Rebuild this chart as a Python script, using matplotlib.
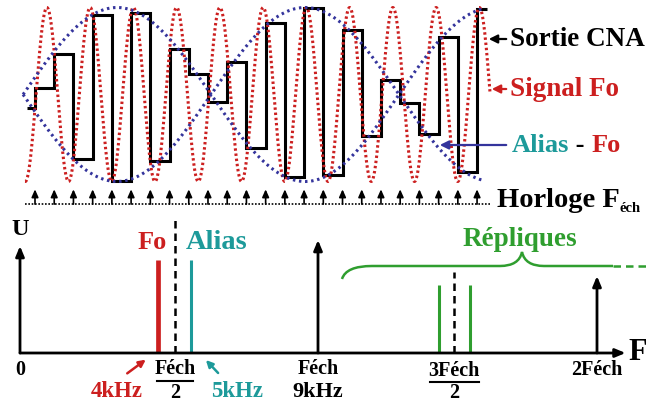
import numpy as np
import matplotlib.pyplot as plt
import matplotlib.transforms as mtransforms
from matplotlib.path import Path
from matplotlib.patches import PathPatch, FancyArrowPatch
from matplotlib.lines import Line2D

plt.rcParams['font.family'] = ['Liberation Serif', 'DejaVu Serif']
plt.rcParams['font.weight'] = 'bold'

W, H = 646, 406

# frequencies (kHz)
fo = 4.0
fech = 9.0
alias = fech - fo
replicas = [fech + fo, 2 * fech - fo]
diracs = [fech, 2 * fech]

# DAC output, one level per clock period (first/last are partial)
dac_levels = [-0.15, 0.07, 0.47, -0.74, 0.91, -0.99, 0.94, -0.77, 0.52, 0.23,
              -0.09, 0.37, -0.61, 0.82, -0.95, 1.0, -0.92, 0.74, -0.48, 0.17,
              -0.10, -0.45, 0.66, -0.89, 0.98]
dac_edges = [-0.42] + list(range(24)) + [23.5]
clock_n = np.arange(24)

# spectrum heights
h_fo = 0.93
h_alias = 0.93
h_replicas = 0.68
h_diracs = [1.13, 0.77]

# drawn curves: signal Fo and the beat envelope (node spacing as drawn)
t_sig = np.linspace(-0.52, 23.67, 900)
sig = np.cos(2 * np.pi * fo / fech * (t_sig - 0.62))
t_env = np.linspace(-0.62, 23.3, 400)
env = np.sin(np.pi * (t_env + 0.62) / 9.78)

red = '#cc1f1f'
cyan = '#1d9a9a'
green = '#2f9e2f'
blue = '#34349c'

fig = plt.figure(figsize=(W / 100, H / 100), dpi=100)
# pixel coordinates of the picture, origin top left
px = mtransforms.Affine2D().scale(1 / W, -1 / H).translate(0, 1) + fig.transFigure

# ---------------- top: time signals ----------------
ax1 = fig.add_axes([0, 1 - 215 / H, 1, 215 / H])
ax1.set_xlim(-35 / 19.22, (W - 35) / 19.22)
ax1.set_ylim((95.5 - 215) / 87, 95.5 / 87)
ax1.axis('off')

ax1.plot(t_sig, sig, color=red, lw=2.2, ls=(0, (0.8, 0.9)))
ax1.plot(t_env, env, color=blue, lw=2.2, ls=(0, (0.8, 1.2)))
ax1.plot(t_env, -env, color=blue, lw=2.2, ls=(0, (0.8, 1.2)))
ax1.stairs(dac_levels, dac_edges, color='black', lw=2.2, baseline=None)

# clock
ax1.hlines(-1.26, t_sig[0], t_sig[-1], color='black', lw=1.2, ls=(0, (1, 1)))
for n in clock_n:
    ax1.annotate('', xy=(n, -1.09), xytext=(n, -1.26),
                 arrowprops=dict(arrowstyle='-|>,head_width=0.2,head_length=0.45',
                                 color='black', lw=1.2, shrinkA=0, shrinkB=0))

# legend texts and pointers
for y, col, x_end in [(40, 'black', 486), (90, red, 489), (146, blue, 437)]:
    fig.add_artist(FancyArrowPatch((509, y), (x_end, y), transform=px, color=col, lw=1.6,
                                   arrowstyle='-|>,head_width=2.5,head_length=5'))
fig.text(510, 40, 'Sortie CNA', transform=px, fontsize=19.5, va='center')
fig.text(510, 90, 'Signal Fo', transform=px, fontsize=19.5, va='center', color=red)
t1 = fig.text(512, 146, 'Alias', transform=px, fontsize=19, va='center', color=cyan)
t2 = ax1.annotate(' - ', xy=(1, 0), xycoords=t1, fontsize=19, va='bottom', ha='left')
ax1.annotate('Fo', xy=(1, 0), xycoords=t2, fontsize=19, va='bottom', ha='left', color=red)
th = fig.text(497, 201, 'Horloge F', transform=px, fontsize=20.5, va='center')
ax1.annotate('éch', xy=(1, 0), xycoords=th, fontsize=10.5, va='bottom', ha='left',
             xytext=(0, -1), textcoords='offset points')

# ---------------- bottom: spectrum ----------------
# schematic frequency axis, as drawn
knot_f = [-2, 0, fech / 2, fech, 1.5 * fech, 2 * fech, 22]
knot_px = [-49, 20, 175, 318, 454, 597, 724]


def fwd(f):
    return np.interp(f, knot_f, knot_px)


def inv(p):
    return np.interp(p, knot_px, knot_f)


ax2 = fig.add_axes([0, 0, 1, 191 / H])
ax2.set_xscale('function', functions=(fwd, inv))
ax2.set_xlim(inv(0), inv(W))
ax2.set_ylim(-(406 - 354) / 100, (354 - 215) / 100)
ax2.axis('off')

arrow = dict(arrowstyle='-|>,head_width=0.25,head_length=0.6', color='black',
             lw=2, shrinkA=0, shrinkB=0)
ax2.annotate('', xy=(2 * fech + 0.9, 0), xytext=(0, 0), arrowprops=arrow)
ax2.annotate('', xy=(0, 1.07), xytext=(0, 0), arrowprops=arrow)
for f, h in zip(diracs, h_diracs):
    ax2.annotate('', xy=(f, h), xytext=(f, 0), arrowprops=arrow)

ax2.vlines(fo, 0, h_fo, color=red, lw=3.4)
ax2.vlines(alias, 0, h_alias, color=cyan, lw=2.2)
ax2.vlines(replicas, 0, h_replicas, color=green, lw=2.2)
ax2.vlines(fech / 2, 0, 1.34, color='black', lw=1.8, ls=(0, (3, 2)))
ax2.vlines(1.5 * fech, 0, 0.81, color='black', lw=1.8, ls=(0, (3, 2)))

fs = 14.5
ax2.text(0, -0.16, '0', ha='center', va='center', fontsize=fs)
ax2.text(fech / 2, -0.15, 'Féch', ha='center', va='center', fontsize=fs)
ax2.text(fech / 2, -0.39, '2', ha='center', va='center', fontsize=fs)
ax2.text(fech, -0.15, 'Féch', ha='center', va='center', fontsize=fs)
ax2.text(fech, -0.38, '9kHz', ha='center', va='center', fontsize=16)
ax2.text(1.5 * fech, -0.17, '3Féch', ha='center', va='center', fontsize=fs)
ax2.text(1.5 * fech, -0.39, '2', ha='center', va='center', fontsize=fs)
ax2.text(2 * fech, -0.16, '2Féch', ha='center', va='center', fontsize=fs)
for xs, y in [((157, 193), 382), ((430, 479), 383)]:
    fig.add_artist(Line2D(xs, (y, y), transform=px, color='black', lw=1.5))

fig.text(117, 392, '4kHz', transform=px, fontsize=16.5, ha='center', va='center', color=red)
fig.text(237, 392, '5kHz', transform=px, fontsize=16.5, ha='center', va='center', color=cyan)
ax2.annotate('', xy=(148, 359), xytext=(125, 376), xycoords=px,
             arrowprops=dict(arrowstyle='-|>,head_width=0.2,head_length=0.4', color=red, lw=1.8))
ax2.annotate('', xy=(204, 359), xytext=(220, 376), xycoords=px,
             arrowprops=dict(arrowstyle='-|>,head_width=0.2,head_length=0.4', color=cyan, lw=1.8))

fig.text(628, 353, 'F', transform=px, fontsize=22, ha='left', va='center')
fig.text(20, 230, 'U', transform=px, fontsize=17.5, ha='center', va='center')
fig.text(152, 243, 'Fo', transform=px, fontsize=19, ha='center', va='center', color=red)
fig.text(217, 243, 'Alias', transform=px, fontsize=20.5, ha='center', va='center', color=cyan)
fig.text(520, 240, 'Répliques', transform=px, fontsize=19.5, ha='center', va='center', color=green)

# brace over the replicas
verts = [(342, 280), (346, 267), (372, 267), (500, 267), (519, 267), (522, 253),
         (525, 267), (544, 267), (613, 267)]
codes = [Path.MOVETO, Path.CURVE3, Path.CURVE3, Path.LINETO, Path.CURVE3, Path.CURVE3,
         Path.CURVE3, Path.CURVE3, Path.LINETO]
fig.add_artist(PathPatch(Path(verts, codes), transform=px, fill=False, ec=green, lw=1.8))
fig.add_artist(Line2D((613, 646), (267, 267), transform=px, color=green, lw=1.8,
                      ls=(0, (3, 2))))

fig.savefig('out.png', dpi=100)
